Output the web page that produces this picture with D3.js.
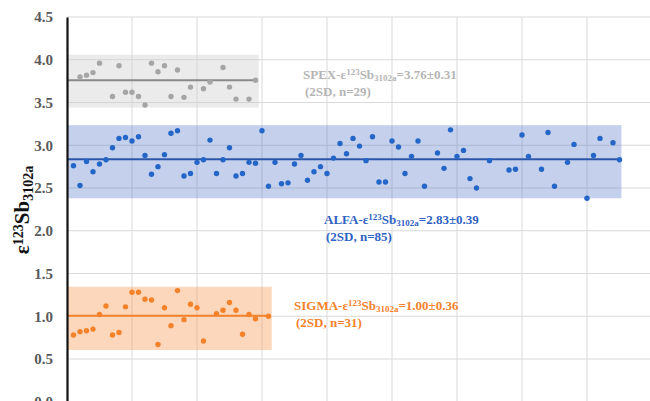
<!DOCTYPE html>
<html>
<head>
<meta charset="utf-8">
<script src="https://cdn.jsdelivr.net/npm/d3@7"></script>
<style>
  body { margin: 0; background: white; }
  text { font-family: "Liberation Serif", "Times New Roman", serif; font-weight: bold; }
</style>
</head>
<body>
<svg id="plot"></svg>
<script>
// Data (x = run number, y = epsilon value)
const spexX = [2, 3, 4, 5, 7, 8, 9, 10, 11, 12, 13, 14, 15, 16, 17, 18, 19, 21, 22, 24, 25, 26, 28, 29];
const spexY = [3.80, 3.82, 3.85, 3.96, 3.57, 3.93, 3.62, 3.62, 3.57, 3.47, 3.96, 3.86, 3.93, 3.57, 3.88, 3.56, 3.68, 3.66, 3.74, 3.91, 3.68, 3.54, 3.54, 3.76];

const alfaX = [1, 2, 3, 4, 5, 6, 7, 8, 9, 10, 11, 12, 13, 14, 15, 16, 17, 18, 19, 20,
  21, 22, 23, 24, 25, 26, 27, 28, 29, 30, 31, 32, 33, 34, 35, 36, 37, 38, 39, 40,
  41, 42, 43, 44, 45, 46, 47, 48, 49, 50, 51, 52, 53, 54, 55, 57, 58, 59, 60, 61,
  62, 63, 65, 68, 69, 70, 71, 73, 74, 75, 77, 78, 80, 81, 82, 84, 85];
const alfaY = [2.76, 2.53, 2.81, 2.69, 2.78, 2.83, 2.97, 3.08, 3.09, 3.05, 3.10, 2.88, 2.66, 2.75, 2.89, 3.14, 3.17, 2.64, 2.67, 2.80,
  2.83, 3.06, 2.67, 2.83, 2.97, 2.64, 2.67, 2.80, 2.79, 3.17, 2.52, 2.80, 2.55, 2.56, 2.78, 2.88, 2.59, 2.69, 2.75, 2.67,
  2.85, 3.02, 2.90, 3.08, 2.99, 2.82, 3.10, 2.57, 2.57, 3.05, 2.98, 2.67, 2.87, 3.05, 2.52, 2.91, 2.73, 3.18, 2.87, 2.94,
  2.61, 2.50, 2.82, 2.71, 2.72, 3.12, 2.87, 2.72, 3.15, 2.52, 2.80, 3.01, 2.38, 2.88, 3.08, 3.03, 2.83];

const sigmaX = [1, 2, 3, 4, 5, 6, 7, 8, 9, 10, 11, 12, 13, 14, 15, 16, 17, 18, 19, 20, 21, 23, 24, 25, 26, 27, 28, 29, 31];
const sigmaY = [0.78, 0.82, 0.83, 0.85, 1.02, 1.12, 0.78, 0.81, 1.11, 1.28, 1.28, 1.20, 1.19, 0.67, 1.10, 0.89, 1.30, 0.96, 1.14, 1.10, 0.71, 1.03, 1.07, 1.16, 1.07, 0.79, 1.02, 0.97, 1.00];

// mean and 2SD band as drawn
const groups = ['SPEX', 'ALFA', 'SIGMA'];
const means = [3.76, 2.835, 1.005];
const bandLow = [3.44, 2.38, 0.605];
const bandHigh = [4.06, 3.235, 1.345];
const lastRun = [29.3, 85, 31.3];
const meanLabels = ['3.76±0.31', '2.83±0.39', '1.00±0.36'];
const nLabels = [29, 85, 31];

const yTicks = [0, 0.5, 1, 1.5, 2, 2.5, 3, 3.5, 4, 4.5];
const xGrid = [10, 20, 30, 40, 50, 60, 70, 80, 90];

const width = 650, height = 401;
const margin = { top: 17, left: 67 };

const svg = d3.select('#plot')
  .attr('width', width)
  .attr('height', height)
  .style('background', 'white');

const xScale = d3.scaleLinear().domain([0, 90]).range([margin.left, 652]);
const yScale = d3.scaleLinear().domain([0, 4.5]).range([401.75, margin.top]);

// grid
svg.append('g')
  .selectAll('line.h')
  .data(yTicks)
  .enter().append('line')
  .attr('x1', margin.left).attr('x2', width)
  .attr('y1', d => yScale(d)).attr('y2', d => yScale(d))
  .attr('stroke', '#d9d9d9').attr('stroke-width', 1);

svg.append('g')
  .selectAll('line.v')
  .data(xGrid)
  .enter().append('line')
  .attr('x1', d => xScale(d)).attr('x2', d => xScale(d))
  .attr('y1', margin.top).attr('y2', height)
  .attr('stroke', '#d9d9d9').attr('stroke-width', 1);

const bandColor = ['#d0d0d0', '#4a6fc4', '#fa9a55'];
const bandOpacity = [0.42, 0.32, 0.4];
const lineColor = ['#8a8a8a', '#2c56a8', '#f4822c'];
const dotColor = ['#a5a5a5', '#2466c8', '#f4822a'];
const textColor = ['#b5b5b5', '#2f62c4', '#f4822c'];
const bandEnd = [29.5, 85.3, 31.5];

// bands
groups.forEach((g, i) => {
  svg.append('rect')
    .attr('x', xScale(0))
    .attr('y', yScale(bandHigh[i]))
    .attr('width', xScale(bandEnd[i]) - xScale(0))
    .attr('height', yScale(bandLow[i]) - yScale(bandHigh[i]))
    .attr('fill', bandColor[i])
    .attr('fill-opacity', bandOpacity[i]);
  svg.append('line')
    .attr('x1', xScale(0)).attr('x2', xScale(lastRun[i]))
    .attr('y1', yScale(means[i])).attr('y2', yScale(means[i]))
    .attr('stroke', lineColor[i]).attr('stroke-width', 2);
});

// points
const series = [[spexX, spexY], [alfaX, alfaY], [sigmaX, sigmaY]];
series.forEach((s, i) => {
  svg.append('g')
    .selectAll('circle')
    .data(s[0].map((x, j) => [x, s[1][j]]))
    .enter().append('circle')
    .attr('cx', d => xScale(d[0]))
    .attr('cy', d => yScale(d[1]))
    .attr('r', 2.7)
    .attr('fill', dotColor[i]);
});

// y axis
const yAxis = svg.append('g')
  .attr('transform', `translate(${margin.left}, 0)`)
  .call(d3.axisLeft(yScale).tickValues(yTicks).tickFormat(d3.format('.1f')).tickSize(0).tickPadding(14));
yAxis.select('.domain').attr('stroke', '#111').attr('stroke-width', 2.2);
yAxis.selectAll('text')
  .attr('fill', '#595959')
  .style('font-size', '15px')
  .style('font-family', '"Liberation Serif", serif')
  .style('font-weight', 'bold');

// y axis title
const title = svg.append('text')
  .attr('transform', 'translate(29, 210) rotate(-90)')
  .attr('text-anchor', 'middle')
  .attr('fill', '#111')
  .style('font-size', '21px');
title.append('tspan').text('ε');
title.append('tspan').attr('baseline-shift', '40%').style('font-size', '14px').text('123');
title.append('tspan').text('Sb');
title.append('tspan').attr('baseline-shift', '-25%').style('font-size', '14px').text('3102a');

// annotations
const labelPos = [[303, 79], [324, 224], [294, 310]];
groups.forEach((g, i) => {
  const t = svg.append('text')
    .attr('x', labelPos[i][0]).attr('y', labelPos[i][1])
    .attr('fill', textColor[i])
    .style('font-size', '13px');
  t.append('tspan').text(g + '-ε');
  t.append('tspan').attr('baseline-shift', '40%').style('font-size', '9px').text('123');
  t.append('tspan').text('Sb');
  t.append('tspan').attr('baseline-shift', '-25%').style('font-size', '9px').text('3102a');
  t.append('tspan').text('=' + meanLabels[i]);
  svg.append('text')
    .attr('x', labelPos[i][0] + 2).attr('y', labelPos[i][1] + 17)
    .attr('fill', textColor[i])
    .style('font-size', '13px')
    .text('(2SD, n=' + nLabels[i] + ')');
});
</script>
</body>
</html>
